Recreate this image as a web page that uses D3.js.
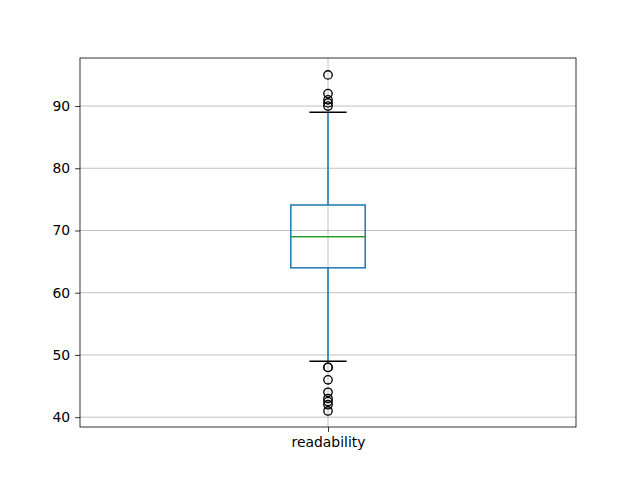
<!DOCTYPE html>
<meta charset="utf-8">
<style>
body { margin: 0; background: #fff; }
text { font-family: "DejaVu Sans", sans-serif; font-size: 13.9px; fill: #000; }
</style>
<body>
<script src="https://d3js.org/d3.v7.min.js"></script>
<script>
// box summary
var categories = ["readability"];
var whiskerLow = [49];
var q1 = [64];
var medians = [69];
var q3 = [74.1];
var whiskerHigh = [89];
var outliers = [[95, 92, 91, 90.5, 90, 48, 48, 46, 44, 43, 42.5, 42, 41]];
var yTicks = [40, 50, 60, 70, 80, 90];

var margin = {top: 58, right: 64, bottom: 53, left: 80},
    width = 640 - margin.left - margin.right,
    height = 480 - margin.top - margin.bottom;

var svg = d3.select("body").append("svg")
    .attr("width", 640)
    .attr("height", 480);

var g = svg.append("g")
    .attr("transform", "translate(" + margin.left + "," + margin.top + ")");

var x = d3.scaleLinear().domain([0.5, 1.5]).range([0, width]);
var y = d3.scaleLinear().domain([38.42, 97.72]).range([height, 0]);

// grid
g.append("g").selectAll("line")
  .data(yTicks)
  .enter().append("line")
    .attr("x1", 0).attr("x2", width)
    .attr("y1", function(d) { return y(d); })
    .attr("y2", function(d) { return y(d); })
    .style("stroke", "#b0b0b0").style("stroke-width", 0.8);

g.append("g").selectAll("line")
  .data(categories)
  .enter().append("line")
    .attr("x1", function(d, i) { return x(i + 1); })
    .attr("x2", function(d, i) { return x(i + 1); })
    .attr("y1", 0).attr("y2", height)
    .style("stroke", "#b0b0b0").style("stroke-width", 0.8);

var boxW = 0.15, capW = 0.075;

var box = g.selectAll(".box")
  .data(categories)
  .enter().append("g")
  .attr("class", "box");

// whiskers
box.append("line")
  .attr("x1", function(d, i) { return x(i + 1); })
  .attr("x2", function(d, i) { return x(i + 1); })
  .attr("y1", function(d, i) { return y(whiskerHigh[i]); })
  .attr("y2", function(d, i) { return y(q3[i]); })
  .style("stroke", "#1f77b4").style("stroke-width", 1.5);
box.append("line")
  .attr("x1", function(d, i) { return x(i + 1); })
  .attr("x2", function(d, i) { return x(i + 1); })
  .attr("y1", function(d, i) { return y(whiskerLow[i]); })
  .attr("y2", function(d, i) { return y(q1[i]); })
  .style("stroke", "#1f77b4").style("stroke-width", 1.5);

// caps
box.append("line")
  .attr("x1", function(d, i) { return x(i + 1 - capW / 2); })
  .attr("x2", function(d, i) { return x(i + 1 + capW / 2); })
  .attr("y1", function(d, i) { return y(whiskerHigh[i]); })
  .attr("y2", function(d, i) { return y(whiskerHigh[i]); })
  .style("stroke", "#000").style("stroke-width", 1.5);
box.append("line")
  .attr("x1", function(d, i) { return x(i + 1 - capW / 2); })
  .attr("x2", function(d, i) { return x(i + 1 + capW / 2); })
  .attr("y1", function(d, i) { return y(whiskerLow[i]); })
  .attr("y2", function(d, i) { return y(whiskerLow[i]); })
  .style("stroke", "#000").style("stroke-width", 1.5);

// box
box.append("rect")
  .attr("x", function(d, i) { return x(i + 1 - boxW / 2); })
  .attr("width", function() { return x(1 + boxW / 2) - x(1 - boxW / 2); })
  .attr("y", function(d, i) { return y(q3[i]); })
  .attr("height", function(d, i) { return y(q1[i]) - y(q3[i]); })
  .style("fill", "none").style("stroke", "#1f77b4").style("stroke-width", 1.5);

// median
box.append("line")
  .attr("x1", function(d, i) { return x(i + 1 - boxW / 2); })
  .attr("x2", function(d, i) { return x(i + 1 + boxW / 2); })
  .attr("y1", function(d, i) { return y(medians[i]); })
  .attr("y2", function(d, i) { return y(medians[i]); })
  .style("stroke", "#2ca02c").style("stroke-width", 1.5);

// fliers
box.each(function(d, i) {
  d3.select(this).selectAll("circle")
    .data(outliers[i])
    .enter().append("circle")
      .attr("cx", x(i + 1))
      .attr("cy", function(v) { return y(v); })
      .attr("r", 4.2)
      .style("fill", "none").style("stroke", "#000").style("stroke-width", 1.33);
});

// axes
var yAxis = d3.axisLeft(y).tickValues(yTicks).tickSize(4.9).tickPadding(4.9);
var xAxis = d3.axisBottom(x).tickValues([1]).tickFormat(function(d) { return categories[d - 1]; })
  .tickSize(4.9).tickPadding(4.9);

var ya = g.append("g").call(yAxis);
var xa = g.append("g").attr("transform", "translate(0," + height + ")").call(xAxis);
[ya, xa].forEach(function(a) {
  a.select(".domain").remove();
  a.selectAll("line").style("stroke", "#000").style("stroke-width", 0.8);
  a.selectAll("text").style("font-family", "DejaVu Sans").style("font-size", "13.9px").style("fill", "#000");
});

// frame
g.append("rect")
  .attr("width", width).attr("height", height)
  .style("fill", "none").style("stroke", "#000").style("stroke-width", 0.8);
</script>
</body>
